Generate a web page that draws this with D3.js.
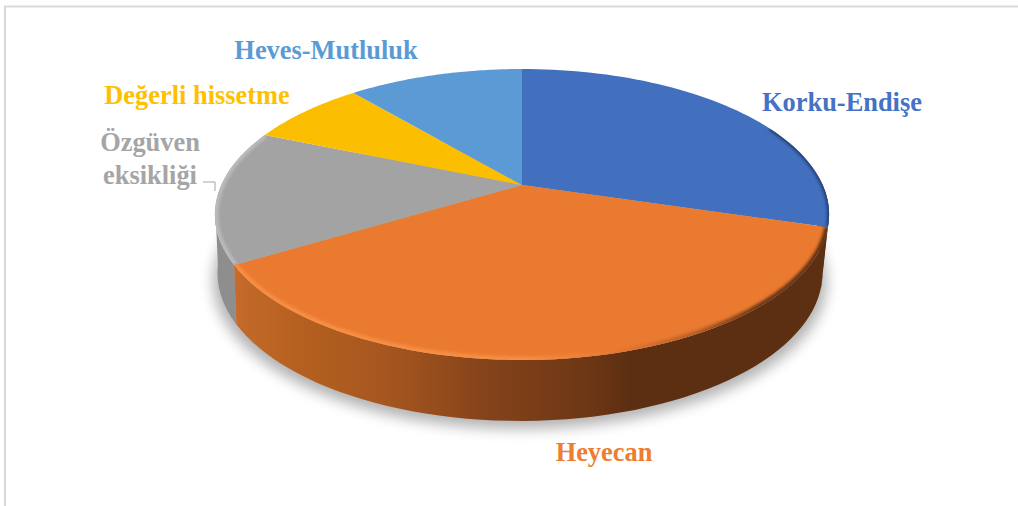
<!DOCTYPE html>
<html>
<head>
<meta charset="utf-8">
<script src="https://cdn.jsdelivr.net/npm/d3@7"></script>
<style>
  html, body { margin: 0; padding: 0; background: #fff; }
  svg { display: block; }
  text { font-family: "Liberation Serif", serif; font-weight: 700; font-size: 26.4px; }
</style>
</head>
<body>
<div id="chart"></div>
<script>
const categories = ['Korku-Endişe', 'Heyecan', 'Özgüven eksikliği', 'Değerli hissetme', 'Heves-Mutluluk'];
const shares = [29.6, 36.8, 14.9, 7.5, 11.2];
const fills = ['#4270bf', '#ea7a30', '#a3a3a3', '#fcbe00', '#5b9ad5'];
const labelFills = ['#4472c4', '#ed7d31', '#a5a5a5', '#ffc000', '#5b9bd5'];

const W = 1018;
const H = 506;
const cx = 522;
const apexY = 185;

// tilted disc: a plain perspective projection of the unit circle
const persp = -0.2027;
const radiusX = 300.7;
const radiusY = 139.5;
function topPoint(a) {
  const u = Math.sin(a);
  const v = -Math.cos(a);
  const k = 1 + persp * v;
  return [cx + (radiusX * u) / k, apexY + (radiusY * v) / k];
}
// bottom rim is the top rim pushed down and a little narrower
function bottomPoint(a) {
  const [x, y] = topPoint(a);
  return [520 + (x - cx) * 0.985, 273 + ((y - 214.5) * 148) / 145.5];
}
const arcAngles = (a0, a1) => d3.range(0, 61).map((i) => a0 + ((a1 - a0) * i) / 60);
const line = d3.line();

const pie = d3.pie().sort(null).value((d) => d);
const slices = pie(shares);

function slicePath(s) {
  return line([[cx, apexY], ...arcAngles(s.startAngle, s.endAngle).map(topPoint)]) + 'Z';
}
function wallPath(a0, a1) {
  const angles = arcAngles(a0, a1);
  return line([...angles.map(topPoint), ...angles.slice().reverse().map(bottomPoint)]) + 'Z';
}

const svg = d3.select('#chart').append('svg').attr('width', W).attr('height', H);
const defs = svg.append('defs');

function blur(id, dev) {
  defs.append('filter').attr('id', id)
    .attr('x', '-20%').attr('y', '-20%').attr('width', '140%').attr('height', '140%')
    .append('feGaussianBlur').attr('stdDeviation', dev);
}
blur('shadowBlur', 7);
blur('rimBlur', 1.8);

function xGradient(id, stops) {
  const g = defs.append('linearGradient').attr('id', id)
    .attr('gradientUnits', 'userSpaceOnUse')
    .attr('x1', 214).attr('x2', 830).attr('y1', 0).attr('y2', 0);
  const pos = d3.scaleLinear().domain([214, 830]).range([0, 1]);
  stops.forEach(([x, c]) => {
    g.append('stop').attr('offset', pos(x)).attr('stop-color', c);
  });
}
xGradient('wallOrange', [[233, '#c56b2c'], [300, '#b5601f'], [387, '#a6561f'], [487, '#84431a'], [587, '#6d3715'], [632, '#5c2e12'], [830, '#5e3012']]);
xGradient('rimOrange', [[233, '#f88f45'], [520, '#f88f45'], [610, '#ea7a30'], [690, '#b9602a'], [760, '#6a3614'], [830, '#5e3012']]);

// frame of the chart area
svg.append('path')
  .attr('d', line([[5, H], [5, 6.5], [W, 6.5]]))
  .attr('fill', 'none').attr('stroke', '#d9d9d9').attr('stroke-width', 2);

// soft shadow under the disc
const allAngles = arcAngles(0, 2 * Math.PI);
svg.append('path')
  .attr('d', line(allAngles.map(bottomPoint).map(([x, y]) => [x + (x - cx) * 0.015, y + 8])) + 'Z')
  .attr('fill', '#000').attr('opacity', 0.3).attr('filter', 'url(#shadowBlur)');

// walls: only the part of the rim facing the viewer
const wallG = svg.append('g');
wallG.append('path')
  .attr('d', wallPath(slices[2].startAngle, slices[2].endAngle - 0.55))
  .attr('fill', '#8e8e8e');
wallG.append('path')
  .attr('d', wallPath(slices[0].endAngle - 0.3, slices[1].startAngle + 0.02))
  .attr('fill', '#1f3864');
wallG.append('path')
  .attr('d', wallPath(slices[1].startAngle, slices[1].endAngle))
  .attr('fill', 'url(#wallOrange)');

// top faces
const topG = svg.append('g');
slices.forEach((s, i) => {
  defs.append('clipPath').attr('id', `clip${i}`).append('path').attr('d', slicePath(s));
  topG.append('path').attr('d', slicePath(s)).attr('fill', fills[i]);
});

// bevel along the rim, kept inside each slice
const bevelG = svg.append('g');
const bevel = [
  { i: 0, stroke: '#1f3864', w: 4, o: 0.9, from: 0.6 },
  { i: 1, stroke: 'url(#rimOrange)', w: 7, o: 1, from: 0 },
  { i: 2, stroke: '#bdbdbd', w: 7, o: 0.9, from: 0 },
];
bevel.forEach(({ i, stroke, w, o, from }) => {
  const s = slices[i];
  bevelG.append('g').attr('clip-path', `url(#clip${i})`)
    .append('path')
    .attr('d', line(arcAngles(s.startAngle + (s.endAngle - s.startAngle) * from, s.endAngle).map(topPoint)))
    .attr('fill', 'none').attr('stroke', stroke).attr('stroke-width', w)
    .attr('opacity', o).attr('filter', 'url(#rimBlur)');
});

// labels
const labelLines = [['Korku-Endişe'], ['Heyecan'], ['Özgüven', 'eksikliği'], ['Değerli hissetme'], ['Heves-Mutluluk']];
const labelAt = [[842, 111], [604, 461], [150, 151], [197, 104], [326, 59]];
labelLines.forEach((rows, i) => {
  rows.forEach((row, r) => {
    svg.append('text')
      .attr('x', labelAt[i][0]).attr('y', labelAt[i][1] + r * 33)
      .attr('text-anchor', 'middle').attr('fill', labelFills[i])
      .text(row);
  });
});

// leader of the grey label
svg.append('path')
  .attr('d', line([[203, 182], [215, 182], [215, 191]]))
  .attr('fill', 'none').attr('stroke', '#a6a6a6').attr('stroke-width', 1);
</script>
</body>
</html>
